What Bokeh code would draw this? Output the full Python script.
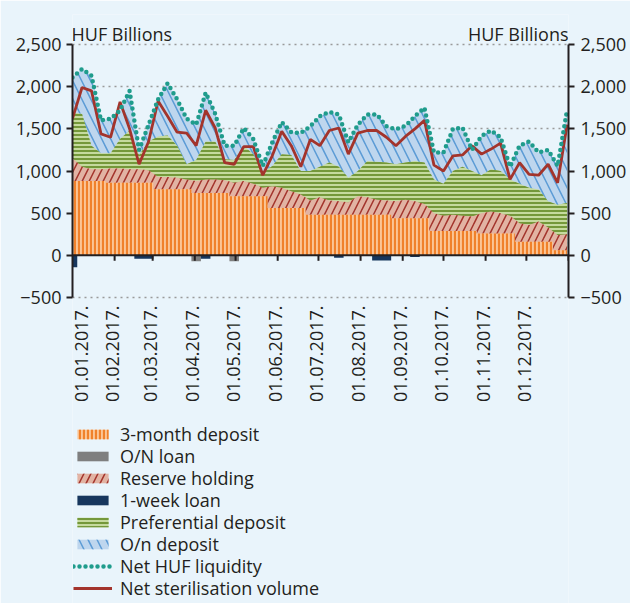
import math
from bokeh.plotting import figure
from bokeh.models import (Range1d, LinearAxis, FixedTicker, Span, Label, Legend, LegendItem)
from bokeh.core.properties import value
from bokeh.embed import file_html
from bokeh.resources import INLINE

# ---------------- data (HUF billions, weekly readings, 2017) ----------------
days = [0, 7, 14, 21, 28, 35, 42, 49, 56, 63, 70, 77, 84, 91, 98, 105, 112, 119, 126,
        133, 140, 147, 154, 161, 168, 175, 182, 189, 196, 203, 210, 217, 224, 231, 238,
        245, 252, 259, 266, 273, 280, 287, 294, 301, 308, 315, 322, 329, 336, 343, 350,
        357, 364]

month_starts = [0, 31, 59, 90, 120, 151, 181, 212, 243, 273, 304, 334]
month_labels = ["01.01.2017.", "01.02.2017.", "01.03.2017.", "01.04.2017.",
                "01.05.2017.", "01.06.2017.", "01.07.2017.", "01.08.2017.",
                "01.09.2017.", "01.10.2017.", "01.11.2017.", "01.12.2017."]
year_end = 365
y_ticks = [-500, 0, 500, 1000, 1500, 2000, 2500]
y_labels = ["\u2212500", "0", "500", "1,000", "1,500", "2,000", "2,500"]

deposit_3m = [880, 880, 880, 880, 860, 860, 860, 860, 860, 785, 785, 785, 785, 740, 740,
              740, 740, 700, 700, 700, 700, 560, 560, 560, 560, 480, 480, 480, 480, 480,
              480, 480, 480, 480, 440, 440, 440, 440, 290, 290, 290, 290, 290, 260, 260,
              260, 260, 160, 160, 160, 160, 60, 60]
on_loan = [0, 0, 0, 0, 0, 0, 0, 0, 0, 0, 0, 0, 0, -70, 0, 0, 0, -70, 0, 0, 0, 0, 0, 0,
           0, 0, 0, 0, 0, 0, 0, 0, 0, 0, 0, 0, 0, 0, 0, 0, 0, 0, 0, 0, 0, 0, 0, 0, 0, 0,
           0, 0, 0]
reserve = [270, 170, 140, 140, 170, 170, 160, 160, 150, 145, 145, 135, 115, 140, 160,
           160, 150, 160, 180, 150, 100, 260, 240, 200, 160, 170, 210, 170, 160, 150,
           220, 210, 180, 170, 200, 220, 200, 170, 210, 180, 190, 180, 170, 240, 260,
           240, 210, 220, 200, 240, 170, 180, 190]
week_loan = [-140, 0, 0, 0, 0, 0, 0, -40, -40, 0, 0, 0, 0, 0, -40, 0, 0, 0, 0, 0, 0, 0,
             0, 0, 0, 0, 0, 0, -30, 0, 0, 0, -60, -60, 0, 0, -20, 0, 0, 0, 0, 0, 0, 0,
             0, 0, 0, 0, 0, 0, 0, 0, 0]
preferential = [540, 630, 280, 190, 180, 350, 460, 170, 340, 480, 490, 380, 180, 250,
                450, 450, 250, 270, 420, 350, 180, 240, 400, 430, 280, 350, 360, 450,
                410, 290, 300, 430, 450, 450, 440, 440, 480, 490, 400, 380, 520, 580,
                540, 450, 500, 500, 430, 470, 440, 380, 310, 360, 370]
on_deposit = [420, 530, 830, 390, 410, 340, 470, 60, 200, 440, 620, 550, 540, 420, 580,
              330, 160, 170, 210, 180, 80, 280, 380, 270, 450, 530, 600, 600, 620, 420,
              550, 550, 560, 430, 415, 435, 530, 650, 320, 370, 500, 465, 250, 465, 460,
              400, 150, 450, 550, 440, 610, 460, 1110]
net_liquidity = [2110, 2210, 2130, 1600, 1620, 1720, 1950, 1250, 1550, 1850, 2040, 1850,
                 1620, 1550, 1930, 1680, 1300, 1300, 1510, 1380, 1060, 1340, 1580, 1460,
                 1450, 1530, 1650, 1700, 1670, 1340, 1550, 1670, 1670, 1530, 1495, 1535,
                 1650, 1750, 1220, 1220, 1500, 1515, 1250, 1415, 1480, 1400, 1050, 1300,
                 1350, 1220, 1250, 1060, 1730]
net_sterilisation = [1620, 1990, 1950, 1440, 1400, 1820, 1500, 1080, 1350, 1830, 1650,
                     1460, 1450, 1300, 1720, 1510, 1100, 1080, 1290, 1290, 950, 1180,
                     1470, 1300, 1050, 1375, 1300, 1480, 1510, 1200, 1450, 1480, 1480,
                     1400, 1300, 1410, 1500, 1600, 1070, 1000, 1180, 1190, 1300, 1200,
                     1260, 1330, 900, 1100, 960, 950, 1080, 860, 1550]

# ---------------- style ----------------
BG = "#E9F4FB"
INK = "#231F20"
FONT = "Open Sans"
FS = "18px"

# cumulative levels of the positive stack
lvl1 = deposit_3m
lvl2 = [a + b for a, b in zip(lvl1, reserve)]
lvl3 = [a + b for a, b in zip(lvl2, preferential)]
lvl4 = [a + b for a, b in zip(lvl3, on_deposit)]
neg1 = on_loan
neg2 = [a + b for a, b in zip(neg1, week_loan)]

# The value axis spans -500..2,500 over 253 px; the frame is extended above and
# below it so that titles, date labels and legend sit inside the (unclipped) frame.
units_per_px = 3000 / 253.0
y_top = 2500 + 30 * units_per_px
y_bottom = -500 - 306 * units_per_px

p = figure(width=630, height=603, output_backend="svg", toolbar_location=None,
           x_range=Range1d(0, year_end), y_range=Range1d(y_bottom, y_top),
           min_border_left=72, min_border_right=62, min_border_top=14,
           min_border_bottom=0)
p.background_fill_color = BG
p.border_fill_color = BG
p.outline_line_color = None
p.xaxis.visible = False

# grid
p.xgrid.visible = False
p.ygrid.ticker = FixedTicker(ticks=[t for t in y_ticks if t != 0])
p.ygrid.grid_line_color = "#9A9A9A"
p.ygrid.grid_line_dash = "2 4"
p.ygrid.grid_line_width = 1.5

# stacked areas (painted from the top level down)
r_ond = p.varea(x=days, y1=0, y2=lvl4, fill_color="#BED6EE",
                hatch_pattern="\\", hatch_color="#5B9BD5", hatch_scale=18, hatch_weight=1.5)
r_pref = p.varea(x=days, y1=0, y2=lvl3, fill_color="#C5DA9E",
                 hatch_pattern="-", hatch_color="#74983A", hatch_scale=4, hatch_weight=2)
r_res = p.varea(x=days, y1=0, y2=lvl2, fill_color="#E2B3A3",
                hatch_pattern="/", hatch_color="#A3342C", hatch_scale=14, hatch_weight=1.5)
r_3m = p.varea_step(x=days, y1=0, y2=lvl1, step_mode="center", fill_color="#FBC596",
                    hatch_pattern="|", hatch_color="#F0812B", hatch_scale=4, hatch_weight=2.2)
r_onl = p.varea_step(x=days, y1=0, y2=neg1, step_mode="center", fill_color="#7F7F7F")
r_wk = p.varea_step(x=days, y1=neg1, y2=neg2, step_mode="center", fill_color="#17365D")

r_ster = p.line(x=days, y=net_sterilisation, line_color="#A3342C", line_width=2.8)
r_liq = p.line(x=days, y=net_liquidity, line_color="#1F9C8C", line_width=4.5,
               line_dash="0 6", line_cap="round")

# zero line and its month ticks
p.add_layout(Span(location=0, dimension="width", line_color=INK, line_width=2))
p.segment(x0=month_starts[1:] + [year_end], y0=[0] * 12,
          x1=month_starts[1:] + [year_end], y1=[-65] * 12, line_color=INK, line_width=2)

# date labels under the -500 line, reading upwards (first one nudged inside the frame)
p.text(x=month_starts, y=[-500] * len(month_starts), text=month_labels, angle=math.pi / 2,
       text_align="right", text_baseline="middle", y_offset=8,
       x_offset=[9] + [-2] * (len(month_starts) - 1),
       text_font=value(FONT), text_font_size=value(FS), text_color=INK)

# axes
def style_y(ax):
    ax.ticker = FixedTicker(ticks=y_ticks)
    ax.bounds = (-500, 2500)
    ax.major_label_overrides = {t: s for t, s in zip(y_ticks, y_labels)}
    ax.axis_line_color = INK
    ax.axis_line_width = 2
    ax.major_tick_line_color = INK
    ax.major_tick_line_width = 2
    ax.major_tick_out = 6
    ax.major_tick_in = 0
    ax.minor_tick_line_color = None
    ax.major_label_text_font = FONT
    ax.major_label_text_font_size = FS
    ax.major_label_text_color = INK
    ax.major_label_standoff = 5

style_y(p.yaxis[0])
right_axis = LinearAxis()
style_y(right_axis)
right_axis.major_label_standoff = 6
p.add_layout(right_axis, "right")

# unit titles
p.add_layout(Label(x=0, y=2500, text="HUF Billions", x_offset=-1, y_offset=11,
                   text_font=FONT, text_font_size=FS, text_color=INK,
                   text_baseline="alphabetic"))
p.add_layout(Label(x=year_end, y=2500, text="HUF Billions", x_offset=0, y_offset=11,
                   text_font=FONT, text_font_size=FS, text_color=INK, text_align="right",
                   text_baseline="alphabetic"))

# legend: one single-entry legend per row so the row pitch can be matched
legend_entries = [("3-month deposit", r_3m), ("O/N loan", r_onl),
                  ("Reserve holding", r_res), ("1-week loan", r_wk),
                  ("Preferential deposit", r_pref), ("O/n deposit", r_ond),
                  ("Net HUF liquidity", r_liq), ("Net sterilisation volume", r_ster)]
first_row_centre = 434.0
row_pitch = 22.0
row_box = 24.5
for i, (lab, rend) in enumerate(legend_entries):
    centre = first_row_centre + i * row_pitch
    vy = 603 - (centre + row_box / 2)
    p.add_layout(Legend(items=[LegendItem(label=lab, renderers=[rend])],
                        location=(1, vy), orientation="vertical", padding=0, margin=0,
                        spacing=0, glyph_width=39, glyph_height=12, label_standoff=8,
                        label_text_font=FONT, label_text_font_size=FS,
                        label_text_color=INK, border_line_color=None,
                        background_fill_alpha=0))

open("out.html", "w").write(file_html(p, INLINE))
